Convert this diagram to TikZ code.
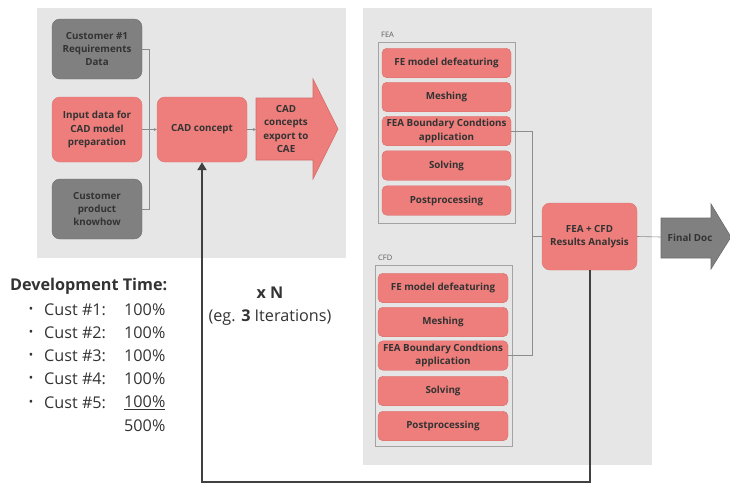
\documentclass[tikz,border=0pt]{standalone}
\usepackage{fontspec}
\setmainfont{Open Sans}
\usetikzlibrary{arrows.meta}

\definecolor{panelgray}{HTML}{E6E6E6}
\definecolor{boxgray}{HTML}{808080}
\definecolor{boxpink}{HTML}{EE7E7B}
\definecolor{pinkline}{HTML}{D26A67}
\definecolor{textdark}{HTML}{333333}
\definecolor{linegray}{HTML}{8C8C8C}
\definecolor{loopdark}{HTML}{404040}

\newcommand{\blockfont}{\fontsize{9.8}{13.3}\selectfont\bfseries}
\newcommand{\bigfont}{\fontsize{16.2}{18}\selectfont}

\begin{document}
\begin{tikzpicture}[x=1pt, y=-1pt,
  gbox/.style={rectangle, rounded corners=8pt, fill=boxgray, draw=boxgray!85!black,
    text=textdark, font=\blockfont, align=center, minimum width=90pt, inner sep=2pt},
  rbox/.style={rectangle, rounded corners=8pt, fill=boxpink, draw=pinkline!60!boxpink,
    text=textdark, font=\blockfont, align=center, minimum width=90pt, inner sep=2pt},
  stage/.style={rbox, rounded corners=5pt, draw=pinkline, minimum height=29.5pt},
  frame/.style={draw=linegray!80, line width=0.7pt},
  link/.style={draw=linegray, line width=0.6pt},
  feedback/.style={draw=loopdark, line width=2pt},
  label/.style={font=\fontsize{7.5}{8}\selectfont, text=textdark!80, anchor=west, inner sep=0pt},
  info/.style={font=\bigfont, text=textdark, inner sep=0pt}]

  \useasboundingbox (0,0) rectangle (730,483);

  % Panels
  \fill[panelgray] (37,8) rectangle (346,258);
  \fill[panelgray] (363,8) rectangle (652,465);

  % Frames
  \node[label] (fealabel) at (381,35) {FEA};
  \draw[frame] (378,42) rectangle (515,223);
  \node[label] (cfdlabel) at (378,258) {CFD};
  \draw[frame] (375,265) rectangle (512,446);

  % Nodes (CAD side)
  \node[gbox, minimum height=60pt] (cust1) at (97,49) {Customer \#1\\Requirements\\Data};
  \node[rbox, minimum height=65pt] (input) at (97,129.5) {Input data for\\CAD model\\preparation};
  \node[gbox, minimum height=60pt] (knowhow) at (97,209) {Customer\\product\\knowhow};
  \node[rbox, minimum height=65pt] (cad) at (202,129.5) {CAD concept};

  \draw[fill=boxpink, draw=pinkline, line width=0.6pt]
    (256,98) -- (313,98) -- (313,79) -- (338,129) -- (313,179) -- (313,160) -- (256,160) -- cycle;
  \node[font=\blockfont, text=textdark, align=center, inner sep=0pt] (export) at (286,129)
    {CAD\\concepts\\export to\\CAE};
  \coordinate (exportin) at (256,129.5);

  % Nodes (FEA)
  \node[stage, minimum width=129pt] (feadef) at (446.5,63) {FE model defeaturing};
  \node[stage, minimum width=129pt] (feamesh) at (446.5,97) {Meshing};
  \node[stage, minimum width=129pt] (feabc) at (446.5,131) {FEA Boundary Condtions\\application};
  \node[stage, minimum width=129pt] (feasolve) at (446.5,165.5) {Solving};
  \node[stage, minimum width=129pt] (feapost) at (446.5,200.5) {Postprocessing};

  % Nodes (CFD)
  \node[stage, minimum width=130pt] (cfddef) at (443,288) {FE model defeaturing};
  \node[stage, minimum width=130pt] (cfdmesh) at (443,322) {Meshing};
  \node[stage, minimum width=130pt] (cfdbc) at (443,355.5) {FEA Boundary Condtions\\application};
  \node[stage, minimum width=130pt] (cfdsolve) at (443,391) {Solving};
  \node[stage, minimum width=130pt] (cfdpost) at (443,426) {Postprocessing};

  \node[rbox, minimum width=95pt, minimum height=67pt] (results) at (589.5,236.5)
    {FEA + CFD\\Results Analysis};

  \draw[fill=boxgray, draw=boxgray!85!black, line width=0.6pt]
    (661,218) -- (711,218) -- (711,204) -- (731,237) -- (711,269) -- (711,258) -- (661,258) -- cycle;
  \node[font=\blockfont, text=textdark, inner sep=0pt] (finaldoc) at (690,237.5) {Final Doc};
  \coordinate (finalin) at (661,237);

  % Paths
  \coordinate (merge) at (149,129.5);
  \draw[link] (cust1.east) -| (merge);
  \draw[link] (knowhow.east) -| (merge);
  \draw[link, -{Stealth[length=3pt,width=3pt]}] (input.east) -- (cad.west);
  \draw[link, -{Stealth[length=3pt,width=3pt]}] (cad.east) -- (exportin);

  \coordinate (join) at (532,236.5);
  \draw[link] (feabc.east) -| (join);
  \draw[link] (cfdbc.east) -| (join);
  \draw[link] (join) -- (results.west);
  \draw[link] (results.east) -- (finalin);

  \coordinate (loopleft) at (202,482);
  \draw[feedback, -{Triangle[length=8pt,width=9pt]}] (results.south) |- (loopleft) -- (cad.south);

  % Development time
  \node[info, anchor=west, font=\bigfont\bfseries] (devtime) at (10,286) {Development Time:};
  \foreach \k/\yy in {1/310, 2/333, 3/356, 4/379} {
    \node[info, anchor=base, font=\fontsize{22}{22}\selectfont] (dot\k) at (31,\yy+6.5) {·};
    \node[info, anchor=west] (cust\k) at (44,\yy) {Cust \#\k:};
    \node[info, anchor=west] (time\k) at (124,\yy) {100\%};
  }
  \node[info, anchor=base, font=\fontsize{22}{22}\selectfont] (dot5) at (31,409.5) {·};
  \node[info, anchor=west] (cust5) at (44,403) {Cust \#5:};
  \node[info, anchor=west] (time5) at (124,403) {\underline{100\%}};
  \node[info, anchor=west] (total) at (124,426) {500\%};

  \node[info, font=\bigfont\bfseries] (times) at (270,293) {x N};
  \node[info] (iter) at (270,317) {(eg. \textbf{3} Iterations)};
\end{tikzpicture}
\end{document}
